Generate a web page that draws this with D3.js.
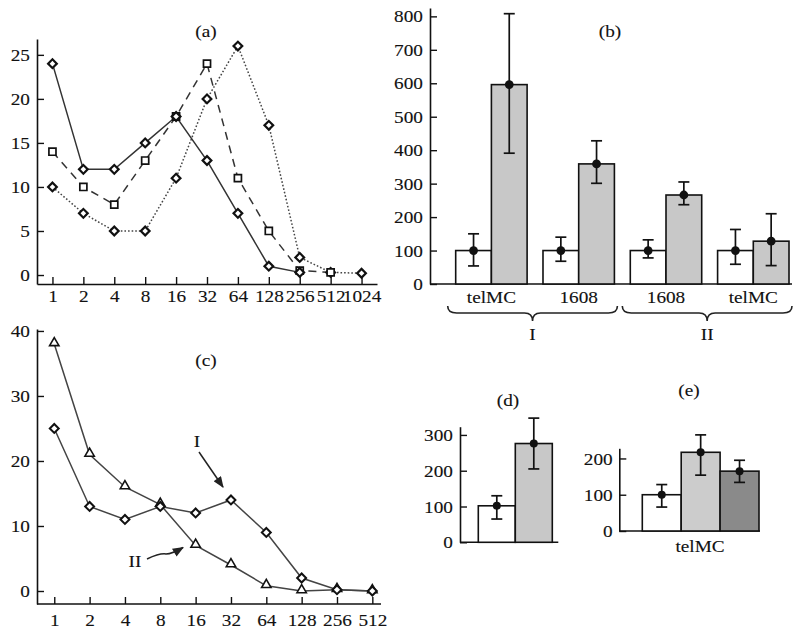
<!DOCTYPE html>
<html><head><meta charset="utf-8">
<script src="https://cdn.jsdelivr.net/npm/d3@7"></script>
<style>
body{margin:0;background:#fff}
text{font-family:"Liberation Serif","Times New Roman",serif;fill:#111;stroke:#111;stroke-width:0.12px}
</style>
</head><body>
<svg id="chart" width="800" height="633"></svg>
<script>
// ---------- Panel (a) ----------
const xCatsA = ["1","2","4","8","16","32","64","128","256","512","1024"];
const aSolid  = [24,12,12,15,18,13,7,1,0.3];
const aDashed = [14,10,8,13,18,24,11,5,0.5,0.3];
const aDotted = [10,7,5,5,11,20,26,17,2,0.3,0.2];
const yTicksA = [0,5,10,15,20,25];

// ---------- Panel (b) ----------
const groupsB  = ["telMC","1608","1608","telMC"];
const setsB    = ["I","I","II","II"];
const ctrlB    = [100,100,100,100];
const ctrlLoB  = [54,68,78,59];
const ctrlHiB  = [150,140,132,163];
const treatB   = [596,359,266,128];
const treatLoB = [391,301,237,55];
const treatHiB = [808,428,305,210];
const yTicksB  = [0,100,200,300,400,500,600,700,800];

// ---------- Panel (c) ----------
const xCatsC = ["1","2","4","8","16","32","64","128","256","512"];
const cI  = [25,13,11,13,12,14,9,2,0.2,0];
const cII = [38,21,16,13.3,7,4,0.8,0,0.2,0];
const yTicksC = [0,10,20,30,40];

// ---------- Panel (d) ----------
const barsD = [102,276];
const loD   = [65,205];
const hiD   = [130,347];
const yTicksD = [0,100,200,300];

// ---------- Panel (e) ----------
const labelE = "telMC";
const barsE = [100,217,165];
const loE   = [66,154,134];
const hiE   = [128,265,195];
const yTicksE = [0,100,200];

const svg = d3.select("#chart");
const FS = 17.5;
const SX = 1.1;
const INK = "#111";

function styleAxis(g){
  g.attr("font-family", null).attr("font-size", null);
  g.selectAll("text").style("font-size", FS+"px")
    .attr("transform", `scale(${SX},1)`);
  g.selectAll("path.domain").attr("stroke", INK).attr("stroke-width", 1.6);
  g.selectAll(".tick line").attr("stroke", INK).attr("stroke-width", 1.4);
}
function leftAxis(x, y, ticks, pad){
  svg.append("g").attr("transform", `translate(${x},0)`)
    .call(d3.axisLeft(y).tickValues(ticks).tickSizeInner(-7).tickSizeOuter(0).tickPadding(pad||6.5))
    .call(styleAxis);
}
function hline(x0, x1, y){
  svg.append("line").attr("x1",x0).attr("x2",x1).attr("y1",y).attr("y2",y)
    .attr("stroke",INK).attr("stroke-width",1.6);
}
function label(txt, x, y){
  svg.append("text").attr("transform",`translate(${x},${y}) scale(${SX},1)`)
    .attr("text-anchor","middle").style("font-size", FS+"px").text(txt);
}
function errBar(cx, yLo, yHi, yPt, r){
  svg.append("line").attr("x1",cx).attr("x2",cx).attr("y1",yLo).attr("y2",yHi)
    .attr("stroke",INK).attr("stroke-width",1.7);
  [yLo,yHi].forEach(yy => svg.append("line").attr("x1",cx-5.5).attr("x2",cx+5.5)
    .attr("y1",yy).attr("y2",yy).attr("stroke",INK).attr("stroke-width",1.7));
  svg.append("circle").attr("cx",cx).attr("cy",yPt).attr("r",r).attr("fill",INK);
}

// ================= (a) =================
{
  const x = d3.scalePoint().domain(xCatsA).range([37,377]).padding(0.5);
  const y = d3.scaleLinear().domain([-1.02,26.8]).range([284,39]);
  leftAxis(37, y, yTicksA);
  svg.append("g").attr("transform","translate(0,284)")
    .call(d3.axisBottom(x).tickSizeInner(-7).tickSizeOuter(0).tickPadding(6))
    .call(styleAxis);
  label("(a)", 206, 37);

  const series = [
    {v:aDotted, dash:"1.6,2", color:"#444", mark:"diamond"},
    {v:aDashed, dash:"8,6", color:"#333", mark:"square"},
    {v:aSolid,  dash:null, color:"#333", mark:"diamond"}
  ];
  const line = d3.line().x((d,i)=>x(xCatsA[i])).y(d=>y(d));
  series.forEach(s=>{
    svg.append("path").datum(s.v).attr("d",line).attr("fill","none")
      .attr("stroke",s.color).attr("stroke-width",1.5)
      .attr("stroke-dasharray",s.dash);
  });
  series.forEach(s=>{
    const sym = d3.symbol().type(d3.symbolSquare).size(s.mark==="square"?50:38)();
    svg.append("g").selectAll("path").data(s.v).join("path")
      .attr("d",sym)
      .attr("transform",(d,i)=>`translate(${x(xCatsA[i])},${y(d)})` + (s.mark==="diamond"?" rotate(45)":""))
      .attr("fill","#fff").attr("stroke",INK).attr("stroke-width", s.mark==="diamond"?2.2:1.7);
  });
}

// ================= (b) =================
{
  const y = d3.scaleLinear().domain([0,825]).range([284,8]);
  const xg = d3.scaleBand().domain(d3.range(groupsB.length)).range([447.75,796.95])
    .paddingInner(0.182).paddingOuter(0.091);
  const xs = d3.scaleBand().domain(["ctrl","treat"]).range([0, xg.bandwidth()]);
  const bw = xs.bandwidth();
  leftAxis(430, y, yTicksB);
  hline(430, 792, 284);
  label("(b)", 610, 37);

  groupsB.forEach((g,i)=>{
    const x0 = xg(i);
    svg.append("rect").attr("x",x0+xs("ctrl")).attr("y",y(ctrlB[i]))
      .attr("width",bw).attr("height",y(0)-y(ctrlB[i]))
      .attr("fill","#fff").attr("stroke",INK).attr("stroke-width",1.6);
    svg.append("rect").attr("x",x0+xs("treat")).attr("y",y(treatB[i]))
      .attr("width",bw).attr("height",y(0)-y(treatB[i]))
      .attr("fill","#c8c8c8").attr("stroke",INK).attr("stroke-width",1.6);
    errBar(x0+xs("ctrl")+bw/2, y(ctrlLoB[i]), y(ctrlHiB[i]), y(ctrlB[i]), 4.4);
    errBar(x0+xs("treat")+bw/2, y(treatLoB[i]), y(treatHiB[i]), y(treatB[i]), 4.4);
    label(g, x0+xg.bandwidth()/2, 303);
  });

  const sets = Array.from(new Set(setsB));
  sets.forEach(s=>{
    const idx = setsB.map((d,i)=>d===s?i:-1).filter(i=>i>=0);
    const a = xg(idx[0]) - 8, b = xg(idx[idx.length-1]) + xg.bandwidth() + 3;
    const m = (a+b)/2, yT = 306, yL = 313, yTip = 321;
    const d = `M${a},${yT} Q${a},${yL} ${a+9},${yL} L${m-8},${yL} Q${m},${yL} ${m},${yTip} Q${m},${yL} ${m+8},${yL} L${b-9},${yL} Q${b},${yL} ${b},${yT}`;
    svg.append("path").attr("d",d).attr("fill","none").attr("stroke","#222").attr("stroke-width",1.6);
    label(s, m, 340);
  });
}

// ================= (c) =================
{
  const x = d3.scalePoint().domain(xCatsC).range([36.6,390]).padding(0.5);
  const y = d3.scaleLinear().domain([-2,40.3]).range([604,329]);
  leftAxis(37, y, yTicksC);
  svg.append("g").attr("transform","translate(0,604)")
    .call(d3.axisBottom(x).tickSizeInner(-7).tickSizeOuter(0).tickPadding(10))
    .call(styleAxis)
    .call(g=>g.select(".domain").remove());
  hline(37, 381, 604);
  label("(c)", 206, 366);

  const line = d3.line().x((d,i)=>x(xCatsC[i])).y(d=>y(d));
  [cII, cI].forEach(v=>{
    svg.append("path").datum(v).attr("d",line).attr("fill","none")
      .attr("stroke","#444").attr("stroke-width",1.5);
  });
  const tri = d3.symbol().type(d3.symbolTriangle).size(38)();
  svg.append("g").selectAll("path").data(cII).join("path").attr("d",tri)
    .attr("transform",(d,i)=>`translate(${x(xCatsC[i])},${y(d)-1})`)
    .attr("fill","#fff").attr("stroke",INK).attr("stroke-width",1.6);
  const dia = d3.symbol().type(d3.symbolSquare).size(40)();
  svg.append("g").selectAll("path").data(cI).join("path").attr("d",dia)
    .attr("transform",(d,i)=>`translate(${x(xCatsC[i])},${y(d)}) rotate(45)`)
    .attr("fill","#fff").attr("stroke",INK).attr("stroke-width",2);

  const defs = svg.append("defs");
  defs.append("marker").attr("id","ah").attr("viewBox","0 0 10 8").attr("refX",9).attr("refY",4)
    .attr("markerWidth",8).attr("markerHeight",6).attr("orient","auto")
    .append("path").attr("d","M0,0 L10,4 L0,8 z").attr("fill","#222");
  label("I", 197, 446.5);
  svg.append("line").attr("x1",199).attr("y1",452).attr("x2",223).attr("y2",487)
    .attr("stroke","#222").attr("stroke-width",1.5).attr("marker-end","url(#ah)");
  label("II", 135, 566.5);
  svg.append("path").attr("d","M147,559 Q160,553 166,554 Q172,554 183,547.5")
    .attr("fill","none").attr("stroke","#222").attr("stroke-width",1.5).attr("marker-end","url(#ah)");
}

// ================= (d) =================
{
  const y = d3.scaleLinear().domain([0,323]).range([542.3,426.7]);
  const x = d3.scaleBand().domain(d3.range(barsD.length)).range([478.3,552.3]);
  const fills = ["#fff","#c8c8c8"];
  leftAxis(460, y, yTicksD);
  hline(460, 558.3, 542.3);
  label("(d)", 508, 406);
  barsD.forEach((v,i)=>{
    svg.append("rect").attr("x",x(i)).attr("y",y(v)).attr("width",x.bandwidth())
      .attr("height",y(0)-y(v)).attr("fill",fills[i]).attr("stroke",INK).attr("stroke-width",1.6);
  });
  barsD.forEach((v,i)=> errBar(x(i)+x.bandwidth()/2, y(loD[i]), y(hiD[i]), y(v), 4));
}

// ================= (e) =================
{
  const y = d3.scaleLinear().domain([0,228]).range([531,448.3]);
  const x = d3.scaleBand().domain(d3.range(barsE.length)).range([642.3,759]);
  const fills = ["#fff","#cccccc","#8a8a8a"];
  leftAxis(619.3, y, yTicksE, 6);
  hline(619.3, 760, 531);
  label("(e)", 689, 396);
  barsE.forEach((v,i)=>{
    svg.append("rect").attr("x",x(i)).attr("y",y(v)).attr("width",x.bandwidth())
      .attr("height",y(0)-y(v)).attr("fill",fills[i]).attr("stroke",INK).attr("stroke-width",1.6);
  });
  barsE.forEach((v,i)=> errBar(x(i)+x.bandwidth()/2, y(loE[i]), y(hiE[i]), y(v), 4));
  label(labelE, 700, 552);
}
</script>
</body></html>
